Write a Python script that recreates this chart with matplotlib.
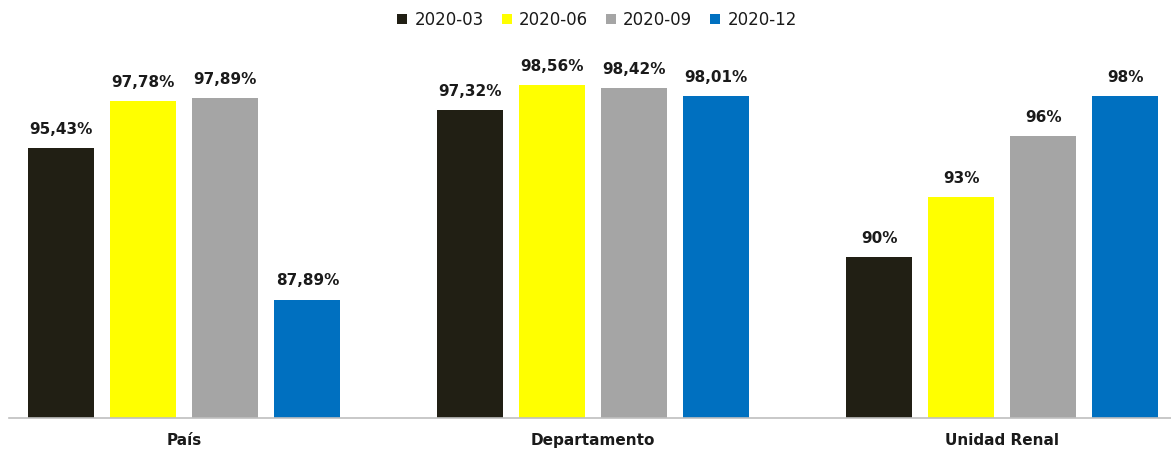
import numpy as np
import matplotlib.pyplot as plt

categorias = ["País", "Departamento", "Unidad Renal"]
series = ["2020-03", "2020-06", "2020-09", "2020-12"]
valores = {
    "2020-03": [95.43, 97.32, 90],
    "2020-06": [97.78, 98.56, 93],
    "2020-09": [97.89, 98.42, 96],
    "2020-12": [87.89, 98.01, 98],
}
etiquetas = {
    "2020-03": ["95,43%", "97,32%", "90%"],
    "2020-06": ["97,78%", "98,56%", "93%"],
    "2020-09": ["97,89%", "98,42%", "96%"],
    "2020-12": ["87,89%", "98,01%", "98%"],
}
colores = ["#211F14", "#FFFF00", "#A5A5A5", "#0070C0"]

fig = plt.figure(figsize=(11.71, 4.49), dpi=100)
ax = fig.add_axes([9 / 1171, 31 / 449, 1 - 9 / 1171, 362 / 449])

x = np.arange(len(categorias))
paso = 0.2006
ancho = 0.1615
for i, s in enumerate(series):
    pos = x + (i - 1.5) * paso
    ax.bar(pos, valores[s], width=ancho, color=colores[i], label=s, zorder=2)
    for p, v, t in zip(pos, valores[s], etiquetas[s]):
        ax.annotate(t, (p, v), xytext=(0, 8), textcoords="offset points",
                    ha="center", va="bottom", fontsize=11, fontweight="bold",
                    color="#1a1a1a")

ax.set_ylim(82, 100)
ax.set_xlim(-0.429, 2.413)
ax.set_yticks([])
ax.set_xticks(x)
ax.set_xticklabels(categorias, fontsize=11, fontweight="bold", color="#1a1a1a")
ax.tick_params(axis="x", length=0, pad=11)
for lado in ["top", "right", "left"]:
    ax.spines[lado].set_visible(False)
ax.spines["bottom"].set_color("#BFBFBF")
ax.spines["bottom"].set_linewidth(1.2)

fig.legend(loc="center", bbox_to_anchor=(597 / 1171, 1 - 20 / 449), ncol=4,
           frameon=False, fontsize=12, handlelength=0.6, handleheight=0.6,
           handletextpad=0.45, columnspacing=1.05, labelcolor="#1a1a1a")

fig.savefig("out.png", dpi=100)
